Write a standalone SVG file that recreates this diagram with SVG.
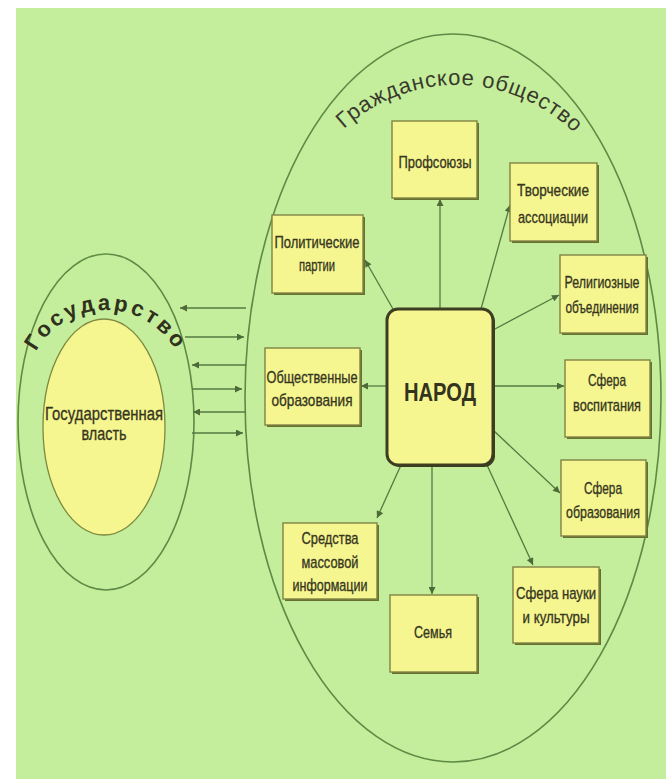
<svg xmlns="http://www.w3.org/2000/svg" width="666" height="779" viewBox="0 0 666 779">
<defs>
<style>
.bg{fill:#c4ee9b}
.ring{fill:none;stroke:#5e8a45;stroke-width:1.6}
.box{fill:#f6f690;stroke:#7f8444;stroke-width:1.4}
.sh{fill:#66702f}
.t{font-family:"Liberation Sans Narrow","Liberation Sans",Arial,sans-serif;font-size:17px;fill:#36361f;stroke:#36361f;stroke-width:0.35;text-anchor:middle}
.big{font-family:"Liberation Sans",Arial,sans-serif;font-weight:bold;font-size:26px;fill:#34341e;text-anchor:middle}
.arc{font-family:"Liberation Sans",Arial,sans-serif;font-size:22px;fill:#3a3a2c}
.arcb{font-family:"Liberation Sans",Arial,sans-serif;font-weight:bold;font-size:22px;fill:#30301c}
.c{fill:none;stroke:#557a42;stroke-width:1.3}
</style>
<marker id="ah" viewBox="0 0 10 10" refX="10" refY="5" markerWidth="9" markerHeight="7" markerUnits="userSpaceOnUse" orient="auto">
<path d="M0,0 L10,5 L0,10 z" fill="#4d6a38"/>
</marker>
<path id="gosArc" d="M 26,390 A 80 80 0 0 1 186,390"/>
<path id="obArc" d="M 290,252 A 167 167 0 0 1 624,252"/>
</defs>
<rect x="0" y="0" width="666" height="779" fill="#ffffff"/>
<rect class="bg" x="16" y="8" width="650" height="771"/>

<g id="civil-society">
<ellipse class="ring" cx="453" cy="398" rx="208" ry="364"/>
<text class="arc"><textPath href="#obArc" startOffset="138" textLength="254" lengthAdjust="spacing">Гражданское общество</textPath></text>
</g>

<g id="state">
<ellipse class="ring" cx="106" cy="422" rx="88" ry="168"/>
<text class="arcb"><textPath href="#gosArc" startOffset="40" textLength="168" lengthAdjust="spacing">Государство</textPath></text>
</g>

<g id="state-power">
<ellipse cx="104" cy="427" rx="61" ry="108" fill="#f6f690" stroke="#7d8a40" stroke-width="1.3"/>
<text class="t" style="font-size:19px" x="104" y="420" textLength="118" lengthAdjust="spacingAndGlyphs">Государственная</text>
<text class="t" style="font-size:19px" x="104" y="440" textLength="45" lengthAdjust="spacingAndGlyphs">власть</text>
</g>

<g id="connectors">
<path class="c" marker-end="url(#ah)" d="M246,308 L180,308"/>
<path class="c" marker-end="url(#ah)" d="M185,337 L244,337"/>
<path class="c" marker-end="url(#ah)" d="M246,365 L192,365"/>
<path class="c" marker-end="url(#ah)" d="M192,389 L242,389"/>
<path class="c" marker-end="url(#ah)" d="M246,412 L193,412"/>
<path class="c" marker-end="url(#ah)" d="M192,433 L243,433"/>
<path class="c" marker-end="url(#ah)" d="M440,309 L440,199"/>
<path class="c" marker-end="url(#ah)" d="M481,309 L510,205"/>
<path class="c" marker-end="url(#ah)" d="M393,309 L365,260"/>
<path class="c" marker-end="url(#ah)" d="M493,330 L559,295"/>
<path class="c" marker-end="url(#ah)" d="M387,386 L361,386"/>
<path class="c" marker-end="url(#ah)" d="M493,386 L564,386"/>
<path class="c" marker-end="url(#ah)" d="M493,430 L560,493"/>
<path class="c" marker-end="url(#ah)" d="M401,465 L377,518"/>
<path class="c" marker-end="url(#ah)" d="M432,465 L432,594"/>
<path class="c" marker-end="url(#ah)" d="M487,465 L533,565"/>
</g>

<g id="narod">
<rect x="389" y="311" width="106" height="156" rx="11" fill="#3d3d22"/>
<rect x="387" y="309" width="106" height="156" rx="11" fill="#f6f690" stroke="#3d3d22" stroke-width="3"/>
<text class="big" x="440" y="401" textLength="72" lengthAdjust="spacingAndGlyphs">НАРОД</text>
</g>

<g id="profsoyuzy">
<rect class="sh" x="394" y="123" width="85" height="77"/>
<rect class="box" x="392" y="121" width="85" height="77"/>
<text class="t" x="435" y="168" textLength="73" lengthAdjust="spacingAndGlyphs">Профсоюзы</text>
</g>

<g id="tvorcheskie">
<rect class="sh" x="512" y="165" width="87" height="78"/>
<rect class="box" x="510" y="163" width="87" height="78"/>
<text class="t" x="553" y="196" textLength="72" lengthAdjust="spacingAndGlyphs">Творческие</text>
<text class="t" x="553" y="223" textLength="70" lengthAdjust="spacingAndGlyphs">ассоциации</text>
</g>

<g id="politicheskie">
<rect class="sh" x="274" y="217" width="91" height="78"/>
<rect class="box" x="272" y="215" width="91" height="78"/>
<text class="t" x="317" y="248" textLength="85" lengthAdjust="spacingAndGlyphs">Политические</text>
<text class="t" x="317" y="271" textLength="36" lengthAdjust="spacingAndGlyphs">партии</text>
</g>

<g id="religioznye">
<rect class="sh" x="562" y="257" width="86" height="78"/>
<rect class="box" x="560" y="255" width="86" height="78"/>
<text class="t" x="602" y="288" textLength="75" lengthAdjust="spacingAndGlyphs">Религиозные</text>
<text class="t" transform="translate(602,313) scale(0.7,1)" x="0" y="0">объединения</text>
</g>

<g id="obshchestvennye">
<rect class="sh" x="267" y="350" width="95" height="77"/>
<rect class="box" x="265" y="348" width="95" height="77"/>
<text class="t" x="312" y="383" textLength="91" lengthAdjust="spacingAndGlyphs">Общественные</text>
<text class="t" x="312" y="406" textLength="81" lengthAdjust="spacingAndGlyphs">образования</text>
</g>

<g id="vospitanie">
<rect class="sh" x="567" y="362" width="85" height="77"/>
<rect class="box" x="565" y="360" width="85" height="77"/>
<text class="t" x="607" y="386" textLength="38" lengthAdjust="spacingAndGlyphs">Сфера</text>
<text class="t" x="607" y="411" textLength="68" lengthAdjust="spacingAndGlyphs">воспитания</text>
</g>

<g id="obrazovanie">
<rect class="sh" x="563" y="462" width="85" height="76"/>
<rect class="box" x="561" y="460" width="85" height="76"/>
<text class="t" x="603" y="494" textLength="38" lengthAdjust="spacingAndGlyphs">Сфера</text>
<text class="t" x="603" y="518" textLength="74" lengthAdjust="spacingAndGlyphs">образования</text>
</g>

<g id="smi">
<rect class="sh" x="285" y="525" width="94" height="76"/>
<rect class="box" x="283" y="523" width="94" height="76"/>
<text class="t" x="330" y="544" textLength="57" lengthAdjust="spacingAndGlyphs">Средства</text>
<text class="t" x="330" y="568" textLength="57" lengthAdjust="spacingAndGlyphs">массовой</text>
<text class="t" x="330" y="591" textLength="75" lengthAdjust="spacingAndGlyphs">информации</text>
</g>

<g id="semya">
<rect class="sh" x="392" y="597" width="87" height="77"/>
<rect class="box" x="390" y="595" width="87" height="77"/>
<text class="t" x="433" y="638" textLength="38" lengthAdjust="spacingAndGlyphs">Семья</text>
</g>

<g id="nauka">
<rect class="sh" x="515" y="569" width="86" height="76"/>
<rect class="box" x="513" y="567" width="86" height="76"/>
<text class="t" x="556" y="599" textLength="80" lengthAdjust="spacingAndGlyphs">Сфера  науки</text>
<text class="t" x="556" y="623" textLength="67" lengthAdjust="spacingAndGlyphs">и  культуры</text>
</g>
</svg>
